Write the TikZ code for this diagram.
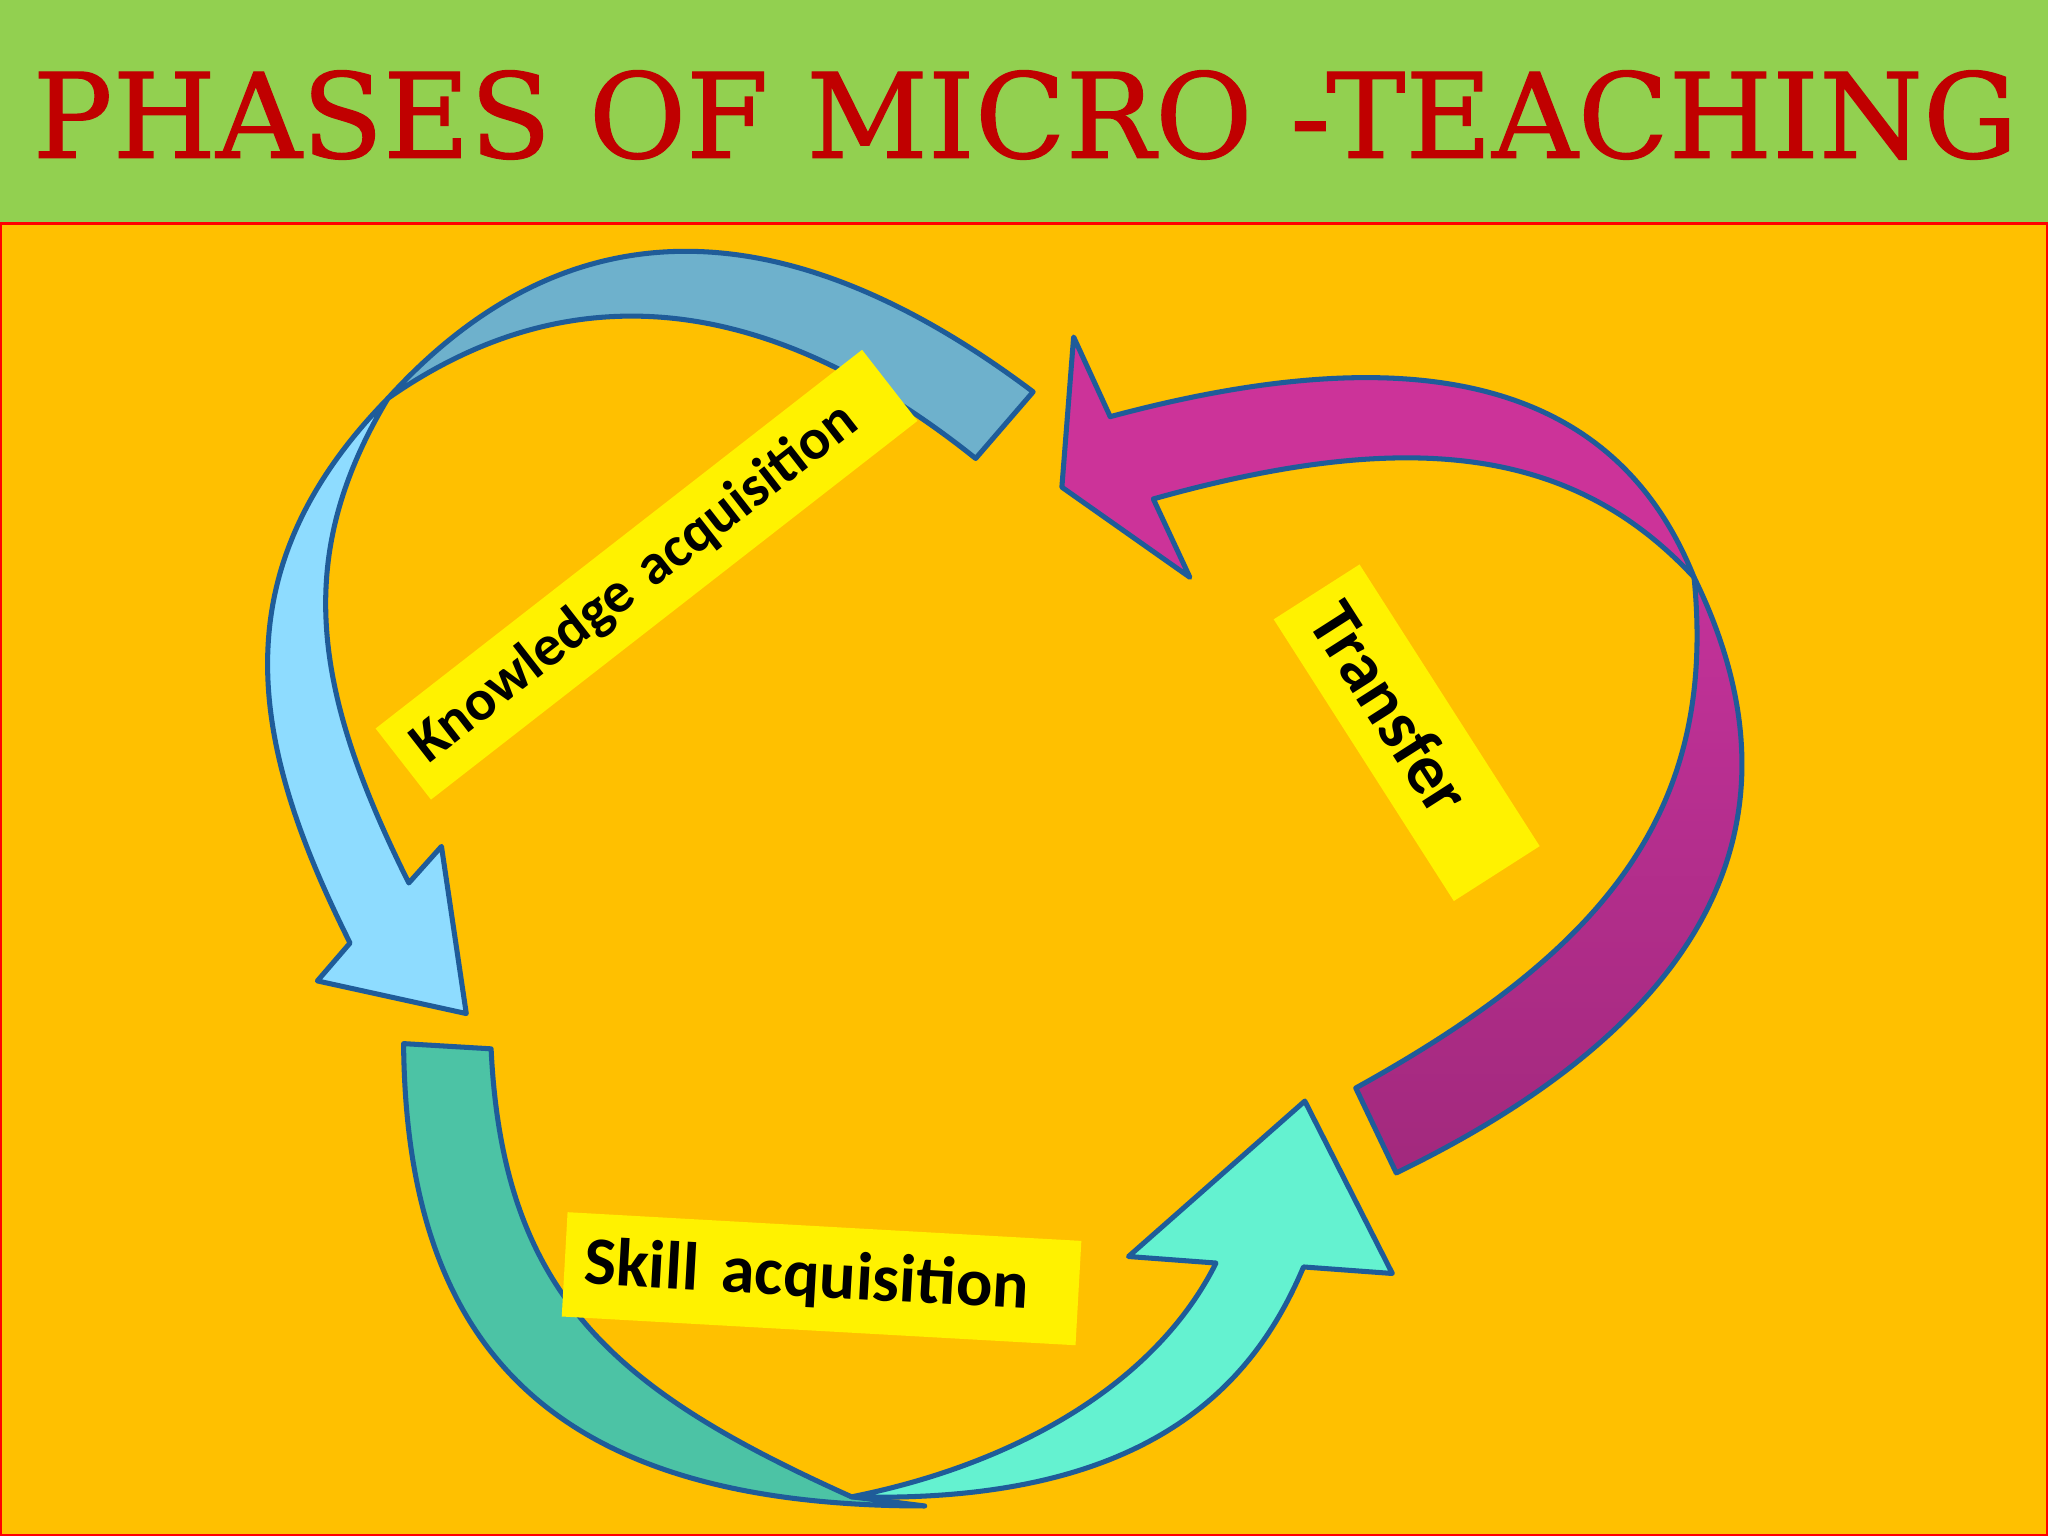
\documentclass[tikz,border=0pt]{standalone}
\usepackage{fontspec}
\setmainfont{Carlito}
\newfontfamily\titlefont[FakeBold=1]{DejaVu Serif}
\usepackage{graphicx}
\definecolor{bandgreen}{HTML}{92D050}
\definecolor{slideorange}{HTML}{FFC000}
\definecolor{titlered}{HTML}{C00000}
\definecolor{edgeblue}{HTML}{1F5C99}
\definecolor{knowback}{HTML}{6EB1CC}
\definecolor{knowfront}{HTML}{8EDCFF}
\definecolor{transback}{HTML}{A2297D}
\definecolor{transtop}{HTML}{C3329A}
\definecolor{transfront}{HTML}{CC3399}
\definecolor{skillback}{HTML}{4CC3A5}
\definecolor{skillfront}{HTML}{64F2D0}
\tikzset{
  band/.style={draw=edgeblue, line width=1.1pt, line join=round},
  tag/.style={fill=yellow, text=black, inner xsep=1.5mm, inner ysep=0pt, align=left},
}

\begin{document}
\begin{tikzpicture}[x=0.1mm, y=-0.1mm]
    \useasboundingbox (0,0) rectangle (1568,1176);
    \fill[bandgreen] (0,0) rectangle (1568,171);
    \filldraw[fill=slideorange, draw=red, line width=0.5pt] (0.9,171) rectangle (1567.1,1175.1);
    \node (title) at (785,88) {\resizebox{152mm}{6.7mm}{\titlefont\color{titlered}PHASES OF MICRO -TEACHING}};

    \coordinate (kpinch) at (297,305);
    \coordinate (tpinch) at (1297,442);
    \coordinate (spinch) at (652,1146);

    \filldraw[band, fill=knowback] (kpinch) .. controls (447,140) and (621,172) .. (791,300)
        -- (747,351) .. controls (557,199) and (407,228) .. (kpinch) -- cycle;
    \filldraw[band, fill=knowfront] (kpinch) .. controls (165,440) and (193,572) .. (268,722)
        -- (243,751) -- (357,776) coordinate (ktip) -- (338,648) -- (313,676)
        .. controls (238,526) and (225,425) .. (kpinch) -- cycle;

    \shadedraw[band, top color=transtop, bottom color=transback] (tpinch) .. controls (1394,640) and (1292,790) .. (1069,898)
        -- (1038,833) .. controls (1228,728) and (1315,622) .. (tpinch) -- cycle;
    \filldraw[band, fill=transfront] (tpinch) .. controls (1233,282) and (1070,260) .. (850,319)
        -- (822,258) -- (813,373) coordinate (ttip) -- (911,442) -- (883,382)
        .. controls (1083,326) and (1206,344) .. (tpinch) -- cycle;

    \filldraw[band, fill=skillback] (309,799) .. controls (311,1030) and (420,1153) .. (708,1153)
        -- (spinch) .. controls (472,1065) and (385,993) .. (376,803) -- cycle;
    \filldraw[band, fill=skillfront] (spinch) .. controls (880,1152) and (960,1060) .. (998,970)
        -- (1066,975) -- (999,843) coordinate (stip) -- (864,962) -- (931,967)
        .. controls (886,1057) and (782,1120) .. (spinch) -- cycle;

    \node[tag, rotate=37.9, text width=44.2mm, minimum height=6.9mm, font=\bfseries\fontsize{12.6}{14}\selectfont] (know) at (495,440) {Knowledge acquisition};
    \node[tag, rotate=-57.4, text width=22.6mm, minimum height=7.8mm, font=\bfseries\fontsize{15.3}{17}\selectfont] (trans) at (1077,561) {Transfer};
    \node[tag, rotate=-3.2, text width=36.4mm, minimum height=8mm, font=\bfseries\fontsize{14.8}{17}\selectfont] (skill) at (629,979) {Skill acquisition};
\end{tikzpicture}
\end{document}
